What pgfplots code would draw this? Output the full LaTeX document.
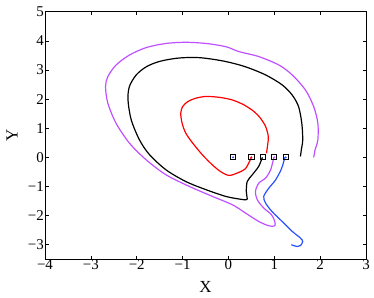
\documentclass[border=0pt]{standalone}
\usepackage{fontspec}
\setmainfont{Liberation Serif}
\usepackage{pgfplots}
\pgfplotsset{compat=1.18}
\definecolor{mpurple}{RGB}{190,80,255}
\definecolor{mblue}{RGB}{40,80,255}
\begin{document}
\begin{tikzpicture}
\begin{axis}[
  scale only axis, width=321bp, height=247.6bp,
  xmin=-4, xmax=3, ymin=-3.5, ymax=5,
  xtick={-4,-3,-2,-1,0,1,2,3},
  xticklabels={−4,−3,−2,−1,0,1,2,3},
  ytick={-3,-2,-1,0,1,2,3,4,5},
  yticklabels={−3,−2,−1,0,1,2,3,4,5},
  tick align=inside, tick pos=both, major tick length=3.5bp,
  ticklabel style={font=\fontsize{15}{17}\selectfont, inner sep=1bp},
  xticklabel style={yshift=1bp},
  yticklabel style={xshift=0bp},
  xlabel={X}, ylabel={Y},
  label style={font=\fontsize{17}{19}\selectfont},
  xlabel style={at={([yshift=-28bp]axis description cs:0.5,0)}, anchor=center},
  ylabel style={at={([xshift=-33bp]axis description cs:0,0.5)}, anchor=center},
  axis line style={line width=0.9pt},
  every tick/.style={black, line width=0.6pt},
]
\addplot[red, line width=1.2pt, smooth] coordinates {
(0.5,0) (0.375,-0.38) (0.19,-0.54) (0.01,-0.62) (-0.17,-0.49) (-0.35,-0.26) (-0.57,0.09) (-0.78,0.49) (-0.93,0.83) (-1.01,1.17) (-1.04,1.51) (-1.0,1.74) (-0.89,1.91) (-0.71,2.03) (-0.49,2.09) (-0.2,2.06) (0.085,1.97) (0.34,1.8) (0.56,1.57) (0.70,1.34) (0.81,1.06) (0.87,0.71) (0.85,0.37) (0.83,0.14)
};
\addplot[black, line width=1.2pt, smooth] coordinates {
(0.74,0) (0.66,-0.31) (0.52,-0.6) (0.41,-0.83) (0.39,-1.17) (0.41,-1.43) (0.38,-1.46) (0.23,-1.43) (-0.06,-1.34) (-0.49,-1.11) (-0.93,-0.83) (-1.36,-0.43) (-1.72,0.09) (-1.94,0.6) (-2.12,1.29) (-2.19,1.97) (-2.16,2.43) (-2.01,2.83) (-1.79,3.11) (-1.51,3.29) (-1.14,3.4) (-0.78,3.43) (-0.49,3.4) (-0.06,3.29) (0.37,3.11) (0.81,2.83) (1.17,2.49) (1.39,2.14) (1.53,1.74) (1.6,1.17) (1.62,0.6) (1.59,0.26) (1.57,0.03)
};
\addplot[mpurple, line width=1.2pt, smooth] coordinates {
(0.99,0) (0.92,-0.43) (0.81,-0.71) (0.66,-0.89) (0.59,-1.17) (0.63,-1.46) (0.77,-1.74) (0.94,-1.97) (1.01,-2.2) (1.01,-2.35) (0.88,-2.35) (0.66,-2.2) (0.37,-1.91) (0.09,-1.63) (-0.35,-1.34) (-0.85,-1.0) (-1.36,-0.6) (-1.79,-0.09) (-2.16,0.49) (-2.45,1.17) (-2.63,1.86) (-2.68,2.43) (-2.63,2.77) (-2.45,3.17) (-2.16,3.51) (-1.79,3.77) (-1.36,3.91) (-0.93,3.95) (-0.49,3.91) (-0.06,3.8) (0.23,3.63) (0.66,3.46) (1.1,3.17) (1.39,2.83) (1.68,2.31) (1.86,1.74) (1.95,1.17) (1.95,0.6) (1.89,0.26) (1.86,0)
};
\addplot[mblue, line width=1.2pt, smooth] coordinates {
(1.23,0) (1.16,-0.38) (1.03,-0.77) (0.88,-1.06) (0.77,-1.34) (0.81,-1.57) (0.95,-1.86) (1.17,-2.2) (1.39,-2.54) (1.57,-2.77) (1.62,-2.89) (1.57,-3.03) (1.5,-3.06) (1.37,-3.0)
};
\addplot[only marks, mark=square, mark size=2.6pt, black, mark options={line width=0.9pt}] coordinates {
(0.1,0) (0.5,0) (0.75,0) (1.0,0) (1.25,0)
};
\addplot[only marks, mark=*, mark size=0.8pt, mblue] coordinates {(0.1,0) (1.25,0)};
\addplot[only marks, mark=*, mark size=0.8pt, red] coordinates {(0.5,0)};
\addplot[only marks, mark=*, mark size=0.8pt, mpurple] coordinates {(1.0,0)};
\end{axis}
\pgfresetboundingbox
\path ([xshift=-45bp,yshift=-38.7bp]current axis.south west) rectangle ([xshift=8bp,yshift=11.7bp]current axis.north east);
\end{tikzpicture}
\end{document}
